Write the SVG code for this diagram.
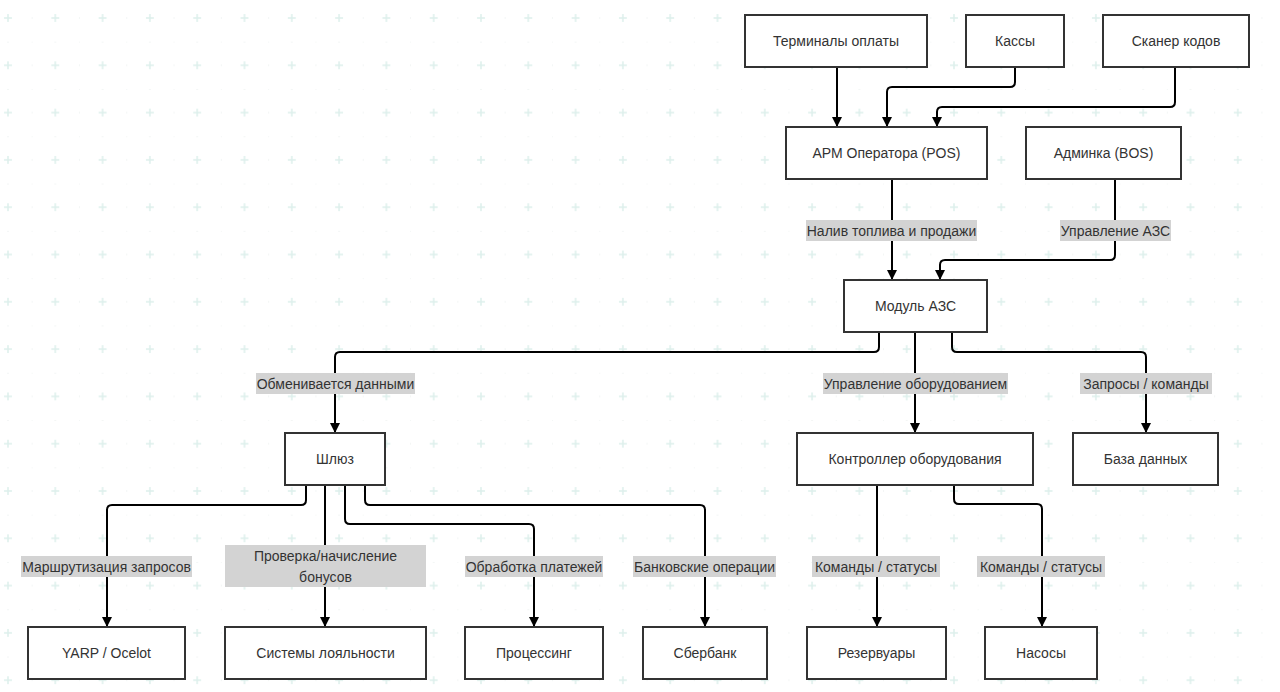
<svg xmlns="http://www.w3.org/2000/svg" width="1280" height="692" viewBox="0 0 1280 692">
<defs>
<pattern id="grid" patternUnits="userSpaceOnUse" x="-15.65" y="-5.65" width="47.3" height="47.3">
<circle cx="0" cy="0" r="0.8" fill="#e4eae9"/>
<circle cx="23.65" cy="0" r="0.8" fill="#e4eae9"/>
<circle cx="0" cy="23.65" r="0.8" fill="#e4eae9"/>
<path d="M19.65 23.65H27.65M23.65 19.65V27.65" stroke="#ddf0ec" stroke-width="1.5"/>
</pattern>
<marker id="arr" markerUnits="userSpaceOnUse" markerWidth="12" markerHeight="12" refX="10" refY="5" orient="auto">
<path d="M0,0 L10,5 L0,10 z" fill="#000"/>
</marker>
<style>
.node rect{fill:#fff;stroke:#333;stroke-width:2}
.node text,.lbl text{font-family:"Liberation Sans",Arial,sans-serif;font-size:14px;fill:#333;text-anchor:middle;dominant-baseline:central}
.lbl rect{fill:#d3d3d3}
#edges path{fill:none;stroke:#000;stroke-width:2;marker-end:url(#arr)}
</style>
</defs>
<rect width="1280" height="692" fill="#fff"/>
<rect width="1280" height="692" fill="url(#grid)"/>

<g id="edges">
<path d="M837 67V127"/>
<path d="M1015 67V82Q1015 87 1010 87H892Q887 87 887 92V127"/>
<path d="M1175 67V102Q1175 107 1170 107H942Q937 107 937 112V127"/>
<path d="M892 179V280"/>
<path d="M1115 179V255Q1115 260 1110 260H945Q940 260 940 265V280"/>
<path d="M879 332V347Q879 352 874 352H340Q335 352 335 357V433"/>
<path d="M915 332V433"/>
<path d="M952 332V347Q952 352 957 352H1141Q1146 352 1146 357V433"/>
<path d="M306 485V500Q306 505 301 505H112Q107 505 107 510V627"/>
<path d="M325 485V627"/>
<path d="M345 485V519Q345 524 350 524H529Q534 524 534 529V627"/>
<path d="M365 485V500Q365 505 370 505H700Q705 505 705 510V627"/>
<path d="M877 485V627"/>
<path d="M954 485V499Q954 504 959 504H1037Q1042 504 1042 509V627"/>
</g>

<g id="edge-labels">
<g class="lbl"><rect x="806" y="220" width="171" height="21"/><text x="891.5" y="230.5">Налив топлива и продажи</text></g>
<g class="lbl"><rect x="1060" y="220" width="111" height="21"/><text x="1115.5" y="230.5">Управление АЗС</text></g>
<g class="lbl"><rect x="256" y="373" width="159" height="21"/><text x="335.5" y="383.5">Обменивается данными</text></g>
<g class="lbl"><rect x="823" y="373" width="185" height="21"/><text x="915.5" y="383.5">Управление оборудованием</text></g>
<g class="lbl"><rect x="1080" y="373" width="132" height="21"/><text x="1146" y="383.5">Запросы / команды</text></g>
<g class="lbl"><rect x="21" y="556" width="171" height="21"/><text x="106.5" y="566.5">Маршрутизация запросов</text></g>
<g class="lbl"><rect x="225" y="545" width="201" height="42"/><text x="325.5" y="556">Проверка/начисление</text><text x="325.5" y="577">бонусов</text></g>
<g class="lbl"><rect x="465" y="556" width="138" height="21"/><text x="534" y="566.5">Обработка платежей</text></g>
<g class="lbl"><rect x="633" y="556" width="143" height="21"/><text x="704.5" y="566.5">Банковские операции</text></g>
<g class="lbl"><rect x="812" y="556" width="128" height="21"/><text x="876" y="566.5">Команды / статусы</text></g>
<g class="lbl"><rect x="977" y="556" width="128" height="21"/><text x="1041" y="566.5">Команды / статусы</text></g>
</g>

<g id="n-terminals" class="node"><rect x="745" y="15" width="182" height="52"/><text x="836" y="41">Терминалы оплаты</text></g>
<g id="n-kassy" class="node"><rect x="966" y="15" width="98" height="52"/><text x="1015" y="41">Кассы</text></g>
<g id="n-scanner" class="node"><rect x="1103" y="15" width="146" height="52"/><text x="1176" y="41">Сканер кодов</text></g>
<g id="n-pos" class="node"><rect x="786" y="127" width="201" height="52"/><text x="886.5" y="153">АРМ Оператора (POS)</text></g>
<g id="n-bos" class="node"><rect x="1026" y="127" width="155" height="52"/><text x="1103.5" y="153">Админка (BOS)</text></g>
<g id="n-module" class="node"><rect x="844" y="280" width="143" height="52"/><text x="915.5" y="306">Модуль АЗС</text></g>
<g id="n-gateway" class="node"><rect x="285" y="433" width="100" height="52"/><text x="335" y="459">Шлюз</text></g>
<g id="n-controller" class="node"><rect x="797" y="433" width="236" height="52"/><text x="915" y="459">Контроллер оборудования</text></g>
<g id="n-db" class="node"><rect x="1073" y="433" width="145" height="52"/><text x="1145.5" y="459">База данных</text></g>
<g id="n-yarp" class="node"><rect x="28" y="627" width="157" height="52"/><text x="106.5" y="653">YARP / Ocelot</text></g>
<g id="n-loyalty" class="node"><rect x="225" y="627" width="201" height="52"/><text x="325.5" y="653">Системы лояльности</text></g>
<g id="n-processing" class="node"><rect x="465" y="627" width="138" height="52"/><text x="534" y="653">Процессинг</text></g>
<g id="n-sber" class="node"><rect x="643" y="627" width="124" height="52"/><text x="705" y="653">Сбербанк</text></g>
<g id="n-tanks" class="node"><rect x="807" y="627" width="139" height="52"/><text x="876.5" y="653">Резервуары</text></g>
<g id="n-pumps" class="node"><rect x="985" y="627" width="112" height="52"/><text x="1041" y="653">Насосы</text></g>
</svg>
